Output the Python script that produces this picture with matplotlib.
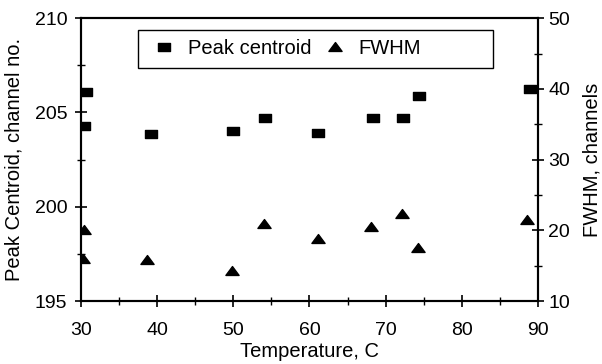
import numpy as np
import matplotlib
matplotlib.use("Agg")
import matplotlib.pyplot as plt
from matplotlib.path import Path
from matplotlib.patches import Rectangle
from matplotlib.ticker import MultipleLocator

plt.rcParams['font.family'] = ['Liberation Sans', 'DejaVu Sans']

# peak centroid (left axis)
temp_c = [30.4, 30.7, 39.2, 50.0, 54.1, 61.1, 68.3, 72.3, 74.4, 88.9]
centroid = [204.3, 206.1, 203.85, 204.0, 204.7, 203.9, 204.7, 204.7, 205.85, 206.25]

# FWHM (right axis)
temp_f = [30.2, 30.4, 38.7, 49.8, 54.0, 61.1, 68.1, 72.2, 74.2, 88.6]
fwhm = [16.0, 20.1, 15.8, 14.3, 20.9, 18.8, 20.5, 22.3, 17.5, 21.4]

rect = Path([(-1, -0.6), (1, -0.6), (1, 0.6), (-1, 0.6), (-1, -0.6)],
            [Path.MOVETO, Path.LINETO, Path.LINETO, Path.LINETO, Path.CLOSEPOLY])
tri = Path([(-1, -0.6), (1, -0.6), (0, 0.75), (-1, -0.6)],
           [Path.MOVETO, Path.LINETO, Path.LINETO, Path.CLOSEPOLY])

fig = plt.figure(figsize=(6.02, 3.64), dpi=100)
ax = fig.add_axes([0.1346, 0.173, 0.759, 0.777])
ax2 = ax.twinx()

h1, = ax.plot(temp_c, centroid, linestyle='none', marker=rect, markersize=9,
              color='black', label='Peak centroid')
h2, = ax2.plot(temp_f, fwhm, linestyle='none', marker=tri, markersize=9.5,
               color='black', label='FWHM')

ax.set_xlim(30, 90)
ax.set_ylim(195, 210)
ax2.set_ylim(10, 50)
ax.xaxis.set_major_locator(MultipleLocator(10))
ax.xaxis.set_minor_locator(MultipleLocator(5))
ax.yaxis.set_major_locator(MultipleLocator(5))
ax.yaxis.set_minor_locator(MultipleLocator(2.5))
ax2.yaxis.set_major_locator(MultipleLocator(10))
ax2.yaxis.set_minor_locator(MultipleLocator(5))

for a in (ax, ax2):
    for s in a.spines.values():
        s.set_linewidth(1.5)
    a.tick_params(which='major', direction='inout', length=8, width=1.2, labelsize=14)
    a.tick_params(which='minor', direction='inout', length=6, width=1.0)
ax.tick_params(axis='x', which='major', pad=11)
ax.tick_params(axis='y', which='major', pad=6)

ax.set_xlabel('Temperature, C', fontsize=14.5, labelpad=2)
ax.set_ylabel('Peak Centroid, channel no.', fontsize=14.5, labelpad=8)
ax2.set_ylabel('FWHM, channels', fontsize=14.5, labelpad=9)

# legend frame drawn separately (the box is wider than its contents)
ax.add_patch(Rectangle((0.125, 0.823), 0.777, 0.135, transform=ax.transAxes,
                       fill=False, edgecolor='black', linewidth=1.0, zorder=4))
leg = ax.legend(handles=[h1, h2], ncol=2, loc='center left',
                bbox_to_anchor=(0.159, 0.894), fontsize=14.5, frameon=False,
                borderpad=0, borderaxespad=0, handletextpad=0.7,
                columnspacing=0.65, handlelength=1.0)

fig.savefig('out.png', dpi=100)
